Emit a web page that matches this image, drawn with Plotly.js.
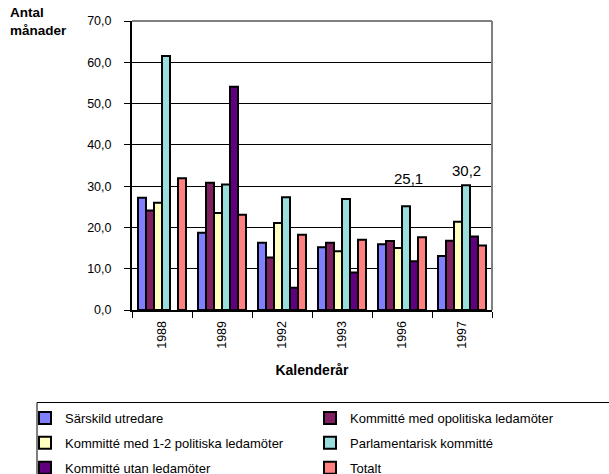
<!DOCTYPE html>
<html>
<head>
<meta charset="utf-8">
<script src="https://cdn.plot.ly/plotly-3.0.1.min.js"></script>
<style>html,body{margin:0;padding:0;background:#fff;}#chart{width:609px;height:474px;}</style>
</head>
<body>
<div id="chart"></div>
<script>
const years = ['1988', '1989', '1992', '1993', '1996', '1997'];
const seriesNames = [
  'Särskild utredare',
  'Kommitté med opolitiska ledamöter',
  'Kommitté med 1-2 politiska ledamöter',
  'Parlamentarisk kommitté',
  'Kommitté utan ledamöter',
  'Totalt'
];
const sarskild = [27.2, 18.7, 16.3, 15.2, 15.9, 13.1];
const opolitiska = [24.1, 30.8, 12.7, 16.3, 16.7, 16.8];
const politiska12 = [26.0, 23.5, 21.1, 14.2, 15.0, 21.4];
const parlamentarisk = [61.5, 30.4, 27.3, 26.9, 25.1, 30.2];
const utan = [null, 54.1, 5.4, 9.1, 11.8, 17.8];
const totalt = [31.9, 23.1, 18.2, 17.0, 17.6, 15.6];
const labelledYears = ['1996', '1997'];

const seriesValues = [sarskild, opolitiska, politiska12, parlamentarisk, utan, totalt];
const colors = ['#8080FF', '#802060', '#FFFFC0', '#99DDDD', '#600080', '#FF8080'];
const legendFor = ['legend', 'legend2', 'legend', 'legend2', 'legend', 'legend2'];

const font = 'Arial, "Liberation Sans", sans-serif';

const traces = seriesValues.map((vals, i) => ({
  type: 'bar',
  name: seriesNames[i],
  x: years,
  y: vals,
  marker: {color: colors[i], line: {color: '#000', width: 2}},
  legend: legendFor[i],
  legendgroup: 'g' + i,
  hoverinfo: 'skip'
}));

const labelShifts = {'1996': {x: 6, y: 28}, '1997': {x: 4, y: 15}};
const annotations = labelledYears.map(yr => {
  const idx = years.indexOf(yr);
  const v = parlamentarisk[idx];
  return {
    x: idx, y: v, xref: 'x', yref: 'y',
    text: v.toFixed(1).replace('.', ','),
    showarrow: false,
    xshift: labelShifts[yr].x, yshift: labelShifts[yr].y,
    yanchor: 'middle',
    font: {family: font, size: 15, color: '#000'}
  };
});

const legendCommon = {
  orientation: 'v',
  xref: 'container', yref: 'container',
  xanchor: 'left', yanchor: 'top',
  font: {family: font, size: 13, color: '#000'},
  bgcolor: 'rgba(0,0,0,0)',
  borderwidth: 0,
  traceorder: 'grouped',
  tracegroupgap: 5,
  itemclick: false, itemdoubleclick: false
};

const layout = {
  width: 609, height: 474,
  margin: {l: 132, r: 117, t: 21, b: 164, pad: 0, autoexpand: false},
  paper_bgcolor: '#fff', plot_bgcolor: '#fff',
  separators: ',.',
  barmode: 'group',
  bargap: 0.2, bargroupgap: 0,
  font: {family: font, size: 12, color: '#000'},
  title: {
    text: '<b>Antal<br>månader</b>',
    xref: 'container', yref: 'container',
    x: 10 / 609, xanchor: 'left',
    y: 1 - 17 / 474, yanchor: 'middle',
    font: {family: font, size: 13.5, color: '#000'}
  },
  xaxis: {
    type: 'category',
    range: [-0.5, years.length - 0.5],
    showline: true, linecolor: '#000', linewidth: 2,
    ticks: 'outside', tickson: 'boundaries', ticklen: 6, tickcolor: '#000', tickwidth: 1,
    tickangle: -90, ticklabelstandoff: 4,
    tickfont: {family: font, size: 12.5, color: '#000'},
    showgrid: false,
    title: {text: '<b>Kalenderår</b>', standoff: 17, font: {family: font, size: 14, color: '#000'}},
    fixedrange: true
  },
  yaxis: {
    range: [0, 70], dtick: 10, tickformat: '.1f',
    showline: true, linecolor: '#000', linewidth: 2,
    ticks: 'outside', ticklen: 6, tickcolor: '#000', tickwidth: 1,
    ticklabelstandoff: 10,
    tickfont: {family: font, size: 12.5, color: '#000'},
    showgrid: true, gridcolor: '#000', gridwidth: 1,
    zeroline: false,
    fixedrange: true
  },
  shapes: [
    {type: 'line', xref: 'paper', yref: 'paper', x0: 0, x1: 1, y0: 1, y1: 1, line: {color: '#808080', width: 2}},
    {type: 'line', xref: 'paper', yref: 'paper', x0: 1, x1: 1, y0: 0, y1: 1, line: {color: '#808080', width: 2}},
    {type: 'rect', xref: 'paper', yref: 'paper',
     x0: (37 - 132) / 360, x1: (620 - 132) / 360,
     y0: (310 - 490) / 289, y1: (310 - 402.5) / 289,
     line: {color: '#000', width: 1}, fillcolor: 'rgba(0,0,0,0)'}
  ],
  annotations: annotations,
  showlegend: true,
  legend: Object.assign({}, legendCommon, {x: 25 / 609, y: 1 - 403 / 474}),
  legend2: Object.assign({}, legendCommon, {x: 310 / 609, y: 1 - 403 / 474})
};

Plotly.newPlot('chart', traces, layout, {displayModeBar: false, staticPlot: true});
</script>
</body>
</html>
